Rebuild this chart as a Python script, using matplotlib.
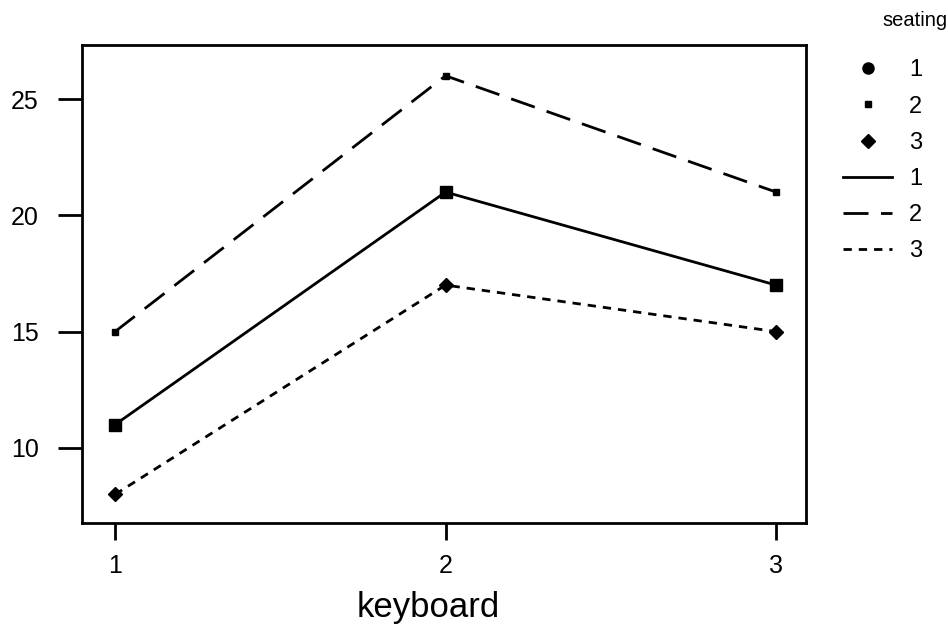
import matplotlib
matplotlib.use("Agg")
import matplotlib.pyplot as plt
from matplotlib.lines import Line2D

plt.rcParams['font.family'] = ['Liberation Sans', 'DejaVu Sans']

keyboard = [1, 2, 3]
seating_labels = ['1', '2', '3']
seat1 = [11, 21, 17]
seat2 = [15, 26, 21]
seat3 = [8, 17, 15]
yticks = [10, 15, 20, 25]

series = [seat1, seat2, seat3]
markers = ['s', 's', 'D']
msizes = [8, 5, 7]
styles = ['-', (0, (9, 4.5)), (0, (3, 2.5))]
leg_markers = ['o', 's', 'D']
leg_msizes = [8, 5, 7]
LW = 2.0

fig = plt.figure(figsize=(9.48, 6.26), dpi=100)
ax = fig.add_axes([0.0865, 0.1645, 0.7635, 0.7635])

for vals, mk, ms, ls in zip(series, markers, msizes, styles):
    ax.plot(keyboard, vals, color='black', linestyle=ls, linewidth=LW,
            marker=mk, markersize=ms, markerfacecolor='black', markeredgecolor='black')

ax.set_xlim(0.9, 3.09)
ax.set_ylim(6.77, 27.32)
ax.set_xticks(keyboard)
ax.set_xticklabels(['1', '2', '3'])
ax.set_yticks(yticks)
for s in ax.spines.values():
    s.set_linewidth(LW)
ax.tick_params(axis='y', length=17, width=LW, labelsize=18, pad=14)
ax.tick_params(axis='x', length=12, width=LW, labelsize=18, pad=10)
ax.set_xlabel('keyboard', fontsize=25)
ax.xaxis.set_label_coords(0.478, -0.142)

handles = []
for mk, ms in zip(leg_markers, leg_msizes):
    handles.append(Line2D([], [], color='black', linestyle='none', marker=mk, markersize=ms))
for ls in styles:
    handles.append(Line2D([], [], color='black', linestyle=ls, linewidth=LW))
labels = seating_labels + seating_labels
leg = fig.legend(handles, labels, loc='upper left',
                 bbox_to_anchor=(0.889, 0.905), frameon=False, fontsize=17,
                 labelspacing=0.6, handlelength=2.1,
                 handletextpad=0.7, borderaxespad=0, borderpad=0)
fig.text(0.999, 0.968, 'seating', ha='right', va='center', fontsize=14.5)

fig.savefig('out.png', dpi=100)
